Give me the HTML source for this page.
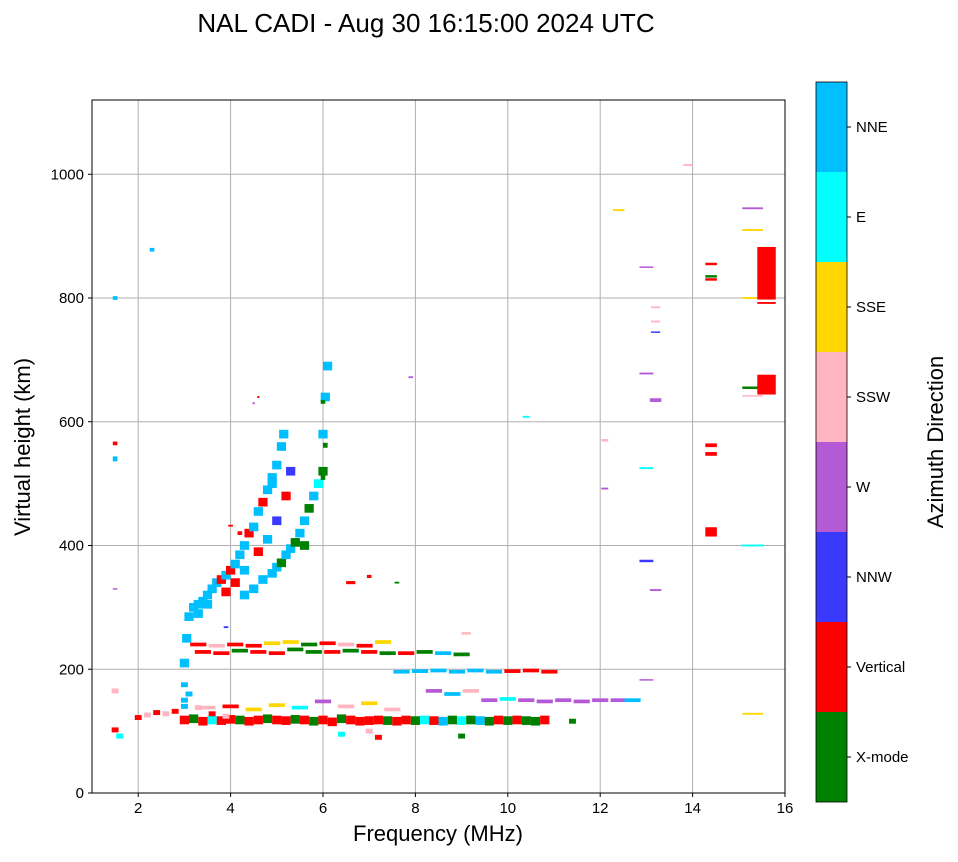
<!DOCTYPE html>
<html><head><meta charset="utf-8">
<style>
body{margin:0;background:#fff;}
svg text{font-family:"Liberation Sans",sans-serif;}
</style></head>
<body>
<svg id="chart" width="958" height="857" xmlns="http://www.w3.org/2000/svg">
<text x="426" y="32" font-size="26" text-anchor="middle">NAL CADI - Aug 30 16:15:00 2024 UTC</text>
<g id="grid"></g>
<g id="marks"></g>
<g id="axes"></g>
<text x="438" y="841" font-size="22" text-anchor="middle">Frequency (MHz)</text>
<text transform="translate(30,447) rotate(-90)" font-size="22" text-anchor="middle">Virtual height (km)</text>
<g id="cbar"></g>
<text transform="translate(943,442) rotate(-90)" font-size="22" text-anchor="middle">Azimuth Direction</text>
</svg>
<script>
const dirLabels=["X-mode","Vertical","NNW","W","SSW","SSE","E","NNE"];
const dirColors=["#008000","#ff0000","#3a3aff","#b45ad6","#ffb6c1","#ffd700","#00ffff","#00bfff"];
const xTicks=[2,4,6,8,10,12,14,16];
const yTicks=[0,200,400,600,800,1000];
// Group A: main E-region echo band (freq MHz, height km, direction index)
const fA=[3.0,3.2,3.4,3.6,3.8,4.0,4.2,4.4,4.6,4.8,
          5.0,5.2,5.4,5.6,5.8,6.0,6.2,6.4,6.6,6.8,
          7.0,7.2,7.4,7.6,7.8,8.0,8.2,8.4,8.6,8.8,
          9.0,9.2,9.4,9.6,9.8,10.0,10.2,10.4,10.6,10.8];
const hA=[118,120,116,118,117,119,118,116,118,120,
          118,117,119,118,116,118,115,120,118,116,
          117,118,117,116,118,117,118,117,116,118,
          117,118,117,116,118,117,118,117,116,118];
const dA=[1,0,1,6,1,1,0,1,1,0,
          1,1,0,1,0,1,1,0,1,1,
          1,1,0,1,1,0,6,1,7,0,
          6,0,7,0,1,0,1,0,0,1];
// Group B: low-frequency / low-height scatter
const fB=[2.0,2.2,2.4,2.6,2.8,3.0,3.3,3.6,3.9,1.5,
          1.5,1.6,3.0,3.1,3.0,6.4,7.0,7.2,9.0,11.4];
const hB=[122,126,130,128,132,140,138,128,124,102,
          165,92,150,160,175,95,100,90,92,116];
const dB=[1,4,1,4,1,7,4,1,4,1,
          4,6,7,7,7,6,4,1,0,0];
// Group C: horizontal sporadic bands
const fC=[3.4,3.8,4.2,4.6,5.0,5.4,5.8,6.2,6.6,7.0,7.4,7.8,8.2,8.6,9.0,
          3.3,3.7,4.1,4.5,4.9,5.3,5.7,6.1,6.5,6.9,7.3,
          7.7,8.1,8.5,8.9,9.3,9.7,10.1,10.5,10.9,
          8.4,8.8,9.2,9.6,10.0,10.4,10.8,11.2,11.6,12.0,12.4,12.7,
          3.5,4.0,4.5,5.0,5.5,6.0,6.5,7.0,7.5];
const hC=[228,226,230,228,226,232,228,228,230,228,226,226,228,226,224,
          240,238,240,238,242,244,240,242,240,238,244,
          196,197,198,196,198,196,197,198,196,
          165,160,165,150,152,150,148,150,148,150,150,150,
          138,140,135,142,138,148,140,145,135];
const dC=[1,1,0,1,1,0,0,1,0,1,0,1,0,7,0,
          1,4,1,1,5,5,0,1,4,1,5,
          7,7,7,7,7,7,1,1,1,
          3,7,4,3,6,3,3,3,3,3,3,7,
          4,1,5,5,6,3,4,5,4];
// Group D: F-region traces
const fD=[3.0,3.05,3.1,3.2,3.3,3.4,3.5,3.6,3.7,3.8,3.9,4.0,4.1,4.2,4.3,4.4,4.5,4.6,4.7,4.8,4.9,5.0,5.1,5.15,
          4.3,4.5,4.7,4.9,5.0,5.1,5.2,5.3,5.4,5.5,5.6,5.7,5.8,5.9,6.0,6.0,6.05,6.1,
          3.3,3.5,3.9,4.1,4.3,4.6,4.8,5.0,4.9,5.2,5.3,5.6];
const hD=[210,250,285,300,305,310,320,330,340,345,352,360,370,385,400,420,430,455,470,490,510,530,560,580,
          320,330,345,355,365,372,385,395,405,420,440,460,480,500,520,580,640,690,
          290,305,325,340,360,390,410,440,500,480,520,400];
const dD=[7,7,7,7,7,7,7,7,7,1,7,1,7,7,7,1,7,7,1,7,7,7,7,7,
          7,7,7,7,7,0,7,7,0,7,7,0,7,6,0,7,7,7,
          7,7,1,1,7,1,7,2,7,1,2,0];
// Group E: isolated echoes (freq, height, dir, width MHz, thickness km)
const fE=[2.3,1.5,1.5,1.5,1.5,7.9,9.1,10.4,12.1,12.1,
          12.4,13.9,13.0,13.2,13.2,13.2,13.0,13.2,13.0,13.0,
          13.2,13.0,14.4,14.4,14.4,14.4,14.4,14.4,15.3,15.3,
          15.3,15.3,15.3,15.3,15.6,15.6,15.6,15.3,6.05,6.0,
          6.0,4.2,4.0,4.5,4.6,6.6,7.0,7.6,6.1,3.9];
const hE=[878,800,540,565,330,672,258,608,570,492,
          942,1015,850,785,762,745,678,635,525,375,
          328,183,422,548,562,855,835,830,945,910,
          800,655,400,128,660,840,792,642,562,632,
          510,420,432,630,640,340,350,340,690,268];
const dE=[7,7,7,1,3,3,4,6,4,3,
          5,4,3,4,4,2,3,3,6,2,
          3,3,1,1,1,1,0,1,3,5,
          5,0,6,5,1,1,1,4,0,0,
          0,1,1,3,1,1,1,0,7,2];
const wE=[.1,.1,.1,.1,.1,.1,.2,.15,.15,.15,
          .25,.2,.3,.2,.2,.2,.3,.25,.3,.3,
          .25,.3,.25,.25,.25,.25,.25,.25,.45,.45,
          .45,.45,.5,.45,.4,.4,.4,.45,.1,.1,
          .1,.1,.1,.05,.05,.2,.1,.1,.1,.1];
const tE=[6,6,8,6,2,3,4,3,4,3,
          3,3,2,3,3,2,3,6,3,4,
          3,2,15,6,6,4,4,4,3,3,
          3,4,3,3,32,85,3,2,8,6,
          8,6,3,3,3,5,5,3,6,3];
const X0=92,X1=785,Y0=793,Y1=100;
const xs=f=>X0+(f-1)/(16-1)*(X1-X0);
const ys=h=>Y0-h/1120*(Y0-Y1);
const NS="http://www.w3.org/2000/svg";
function mk(tag,at,parent){const e=document.createElementNS(NS,tag);for(const k in at)e.setAttribute(k,at[k]);parent.appendChild(e);return e;}
const grid=document.getElementById('grid'),axes=document.getElementById('axes'),marks=document.getElementById('marks'),cbar=document.getElementById('cbar');
xTicks.forEach(t=>{
 if(t<16){const l=mk('line',{x1:xs(t),x2:xs(t),y1:Y1,y2:Y0,stroke:'#b0b0b0','stroke-width':1},grid);
 
 }
 mk('line',{x1:xs(t),x2:xs(t),y1:Y0,y2:Y0+4,stroke:'#000'},axes);
 const tx=mk('text',{x:xs(t),y:Y0+20,'font-size':15,'text-anchor':'middle'},axes);tx.textContent=t;
 
 
});
yTicks.forEach(t=>{
 const l=mk('line',{x1:X0,x2:X1,y1:ys(t),y2:ys(t),stroke:'#b0b0b0','stroke-width':1},grid);
 
 
 mk('line',{x1:X0-4,x2:X0,y1:ys(t),y2:ys(t),stroke:'#000'},axes);
 const tx=mk('text',{x:X0-8,y:ys(t)+5,'font-size':15,'text-anchor':'end'},axes);tx.textContent=t;
 
 
});
function drawMark(f,h,d,w,t){
 const x=xs(f-w/2),wd=xs(f+w/2)-x;
 const y=ys(h+t/2),ht=ys(h-t/2)-y;
 const r=mk('rect',{x:x,y:y,width:wd,height:Math.max(ht,1.5),fill:dirColors[d]},marks);
 
 
}
fA.forEach((f,i)=>drawMark(f,hA[i],dA[i],0.2,14));
fB.forEach((f,i)=>drawMark(f,hB[i],dB[i],0.15,8));
fC.forEach((f,i)=>drawMark(f,hC[i],dC[i],0.35,6));
fD.forEach((f,i)=>drawMark(f,hD[i],dD[i],0.2,14));
fE.forEach((f,i)=>drawMark(f,hE[i],dE[i],wE[i],tE[i]));
const fr=mk('rect',{x:X0,y:Y1,width:X1-X0,height:Y0-Y1,fill:'none',stroke:'#000','stroke-width':1},axes);


const CB0=802,CBH=90;
dirLabels.forEach((lab,i)=>{
 const y=CB0-(i+1)*CBH;
 const r=mk('rect',{x:816,y:y,width:31,height:CBH,fill:dirColors[i]},cbar);
 
 
 mk('line',{x1:847,x2:851,y1:y+CBH/2,y2:y+CBH/2,stroke:'#000'},cbar);
 const tx=mk('text',{x:856,y:y+CBH/2+5,'font-size':15},cbar);tx.textContent=lab;
 
 
});
mk('rect',{x:816,y:82,width:31,height:720,fill:'none',stroke:'#000','stroke-width':0.8},cbar);
</script>
</body></html>
